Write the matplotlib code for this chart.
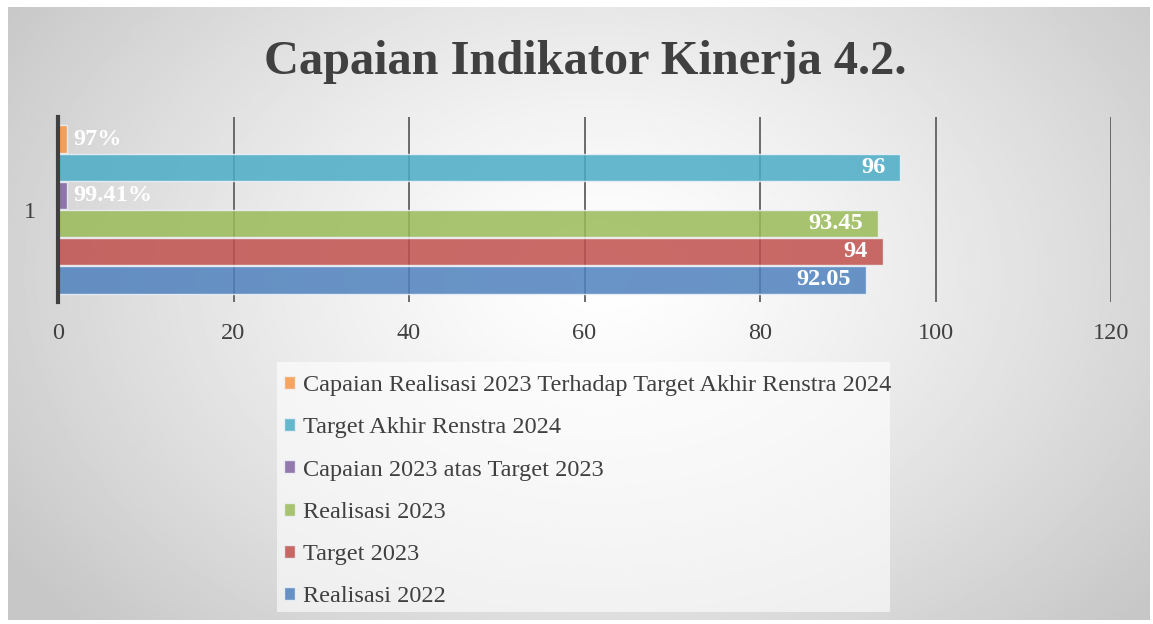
import numpy as np
import matplotlib.pyplot as plt
from matplotlib.patches import Patch, Rectangle

# series drawn bottom -> top
series_names = [
    "Realisasi 2022",
    "Target 2023",
    "Realisasi 2023",
    "Capaian 2023 atas Target 2023",
    "Target Akhir Renstra 2024",
    "Capaian Realisasi 2023 Terhadap Target Akhir Renstra 2024",
]
series_values = [92.05, 94, 93.45, 0.9941, 96, 0.97]
value_labels = ["92.05", "94", "93.45", "99.41%", "96", "97%"]
series_colors = ["#4F81BD", "#C0504D", "#9BBB59", "#8064A2", "#4BACC6", "#F79646"]
categories = ["1"]
x_ticks = [0, 20, 40, 60, 80, 100, 120]

plt.rcParams['font.family'] = ['Liberation Serif', 'DejaVu Serif']
W, H = 1153, 624
fig = plt.figure(figsize=(W / 100, H / 100), dpi=100)
fig.patch.set_facecolor('white')

# radial gradient background
bg = fig.add_axes([8 / W, 4 / H, (1150 - 8) / W, (617 - 4) / H])
bg.set_axis_off()
yy, xx = np.mgrid[0:300, 0:560]
cx, cy = 290, 130
r = np.sqrt(((xx - cx) / 560) ** 2 + ((yy - cy) / 300) ** 2 * 0.55)
r = np.clip(r / 0.62, 0, 1)
shade = 1.0 - 0.22 * r ** 1.3
bg.imshow(shade, cmap='gray', vmin=0, vmax=1, aspect='auto', interpolation='bilinear')

ax = fig.add_axes([58 / W, 1 - 302 / H, (1111 - 58) / W, (302 - 117) / H])
ax.patch.set_alpha(0)

n = len(series_values)
bar_h = 0.1524
for i, (name, val, col) in enumerate(zip(series_names, series_values, series_colors)):
    y = (i - (n - 1) / 2) * bar_h
    ax.barh(y, val, height=bar_h * 0.97, color=col, alpha=0.85,
            edgecolor='#eef2f7', linewidth=1, label=name, zorder=3)
    if val < 5:
        ax.text(val + 0.8, y, value_labels[i], ha='left', va='center',
                color='white', fontsize=17.5, fontweight='bold', zorder=4)
    else:
        ax.text(val - 1.7, y, value_labels[i], ha='right', va='center',
                color='white', fontsize=17.5, fontweight='bold', zorder=4)

ax.set_xlim(0, 120)
ax.set_ylim(-0.5, 0.5)
ax.set_xticks(x_ticks)
ax.set_xticklabels([str(t) for t in x_ticks], fontsize=17.5, color='#404040')
ax.set_yticks([0])
ax.set_yticklabels(categories, fontsize=17.5, color='#404040')
ax.tick_params(axis='x', length=0, pad=15)
ax.tick_params(axis='y', length=0, pad=16)
for t in x_ticks[1:]:
    ax.axvline(t, color='#606060', lw=1.3, zorder=2)
for s in ['top', 'right', 'bottom']:
    ax.spines[s].set_visible(False)
ax.spines['left'].set_color('#404040')
ax.spines['left'].set_linewidth(3)
ax.spines['left'].set_zorder(5)

fig.text(585 / W, 1 - 62 / H, "Capaian Indikator Kinerja 4.2.", ha='center', va='center',
         fontsize=34.8, fontweight='bold', color='#404040')

# legend backdrop
fig.patches.append(Rectangle((277 / W, 1 - 612 / H), (890 - 277) / W, (612 - 362) / H,
                             transform=fig.transFigure, facecolor='white', alpha=0.6,
                             edgecolor='none', zorder=1))

handles = [Patch(facecolor=c, alpha=0.85, edgecolor='#eef2f7') for c in series_colors][::-1]
leg = fig.legend(handles, series_names[::-1], loc='upper left',
                 bbox_to_anchor=(277 / W, 1 - 368 / H), frameon=False, fontsize=17.5,
                 handlelength=0.45, handleheight=0.45, handletextpad=0.3,
                 labelspacing=0.87, borderpad=0.3, borderaxespad=0)
for t in leg.get_texts():
    t.set_color('#404040')

fig.savefig('out.png', dpi=100)
